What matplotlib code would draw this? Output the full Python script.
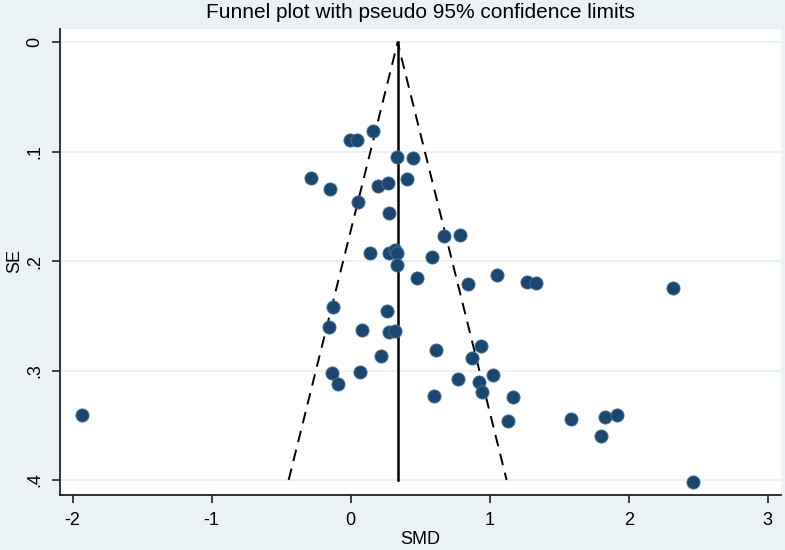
import numpy as np
import matplotlib
matplotlib.use("Agg")
import matplotlib.pyplot as plt

plt.rcParams['font.family'] = ['Liberation Sans', 'DejaVu Sans']

# study estimates (SMD) and their standard errors
smd = [0.160, -0.005, 0.045, 0.333, 0.448, -0.286, -0.149, 0.196, 0.268, 0.405,
       0.053, 0.276, 0.671, 0.786, 0.139, 0.276, 0.319, 0.333, 0.333, 0.585,
       0.477, 0.844, 1.053, 1.268, 1.333, 2.319, -0.127, 0.261, -0.156, 0.081,
       0.276, 0.319, 0.614, 0.937, 0.218, 0.873, -0.135, 0.067, -0.091, 0.772,
       1.024, 0.923, 0.945, 0.599, 1.168, 1.132, 1.585, 1.829, 1.916, 1.801,
       2.463, -1.933]
se = [0.0811, 0.0893, 0.0893, 0.1048, 0.1058, 0.1240, 0.1341, 0.1314, 0.1286, 0.1250,
      0.1460, 0.1560, 0.1771, 0.1761, 0.1926, 0.1926, 0.1899, 0.1926, 0.2036, 0.1963,
      0.2154, 0.2209, 0.2127, 0.2191, 0.2200, 0.2246, 0.2420, 0.2456, 0.2602, 0.2630,
      0.2648, 0.2639, 0.2813, 0.2776, 0.2867, 0.2886, 0.3023, 0.3014, 0.3123, 0.3078,
      0.3041, 0.3105, 0.3196, 0.3233, 0.3242, 0.3461, 0.3443, 0.3425, 0.3407, 0.3599,
      0.4019, 0.3407]

pooled = 0.338
se_max = 0.4
x_ticks = [-2, -1, 0, 1, 2, 3]
y_ticks = [0, 0.1, 0.2, 0.3, 0.4]
y_labels = ["0", ".1", ".2", ".3", ".4"]

bg = "#EAF2F3"
navy = "#1a476f"

fig = plt.figure(figsize=(7.85, 5.5), dpi=100, facecolor=bg)
ax = fig.add_axes([60 / 785, 1 - 495 / 550, 721 / 785, (495 - 29.3) / 550])
ax.set_facecolor("white")

# horizontal grid at the y ticks
for yv in y_ticks:
    ax.axhline(yv, color=bg, lw=1.5, zorder=0)

# pseudo 95% limits and pooled estimate
ax.plot([pooled - 1.96 * se_max, pooled, pooled + 1.96 * se_max], [se_max, 0, se_max],
        color="black", lw=1.4, ls=(0, (6, 4)), zorder=2)
ax.plot([pooled, pooled], [0, se_max], color="black", lw=1.8, zorder=2)

ax.scatter(smd, se, s=90, color=navy, edgecolor="#4d7191", linewidth=0.6, zorder=3)

ax.set_xlim(-2.091, 3.096)
ax.set_ylim(0.4138, -0.0119)

ax.set_xticks(x_ticks)
ax.set_xticklabels([str(v) for v in x_ticks])
ax.set_yticks(y_ticks)
ax.set_yticklabels(y_labels, rotation=90, va="center", ha="right")

for side in ["top", "right"]:
    ax.spines[side].set_visible(False)
for side in ["left", "bottom"]:
    ax.spines[side].set_color("#222222")
    ax.spines[side].set_linewidth(1.3)

ax.tick_params(axis="x", length=6, width=1.2, color="#222222", pad=6, labelsize=13)
ax.tick_params(axis="y", length=6, width=1.2, color="#222222", pad=6, labelsize=13)

fig.text(420 / 785, 1 - 13 / 550, "Funnel plot with pseudo 95% confidence limits",
         ha="center", va="center", fontsize=15)
fig.text(420 / 785, 1 - 539 / 550, "SMD", ha="center", va="center", fontsize=13)
fig.text(15 / 785, 1 - 261 / 550, "SE", ha="center", va="center", fontsize=13, rotation=90)

fig.savefig("out.png", dpi=100, facecolor=bg)
